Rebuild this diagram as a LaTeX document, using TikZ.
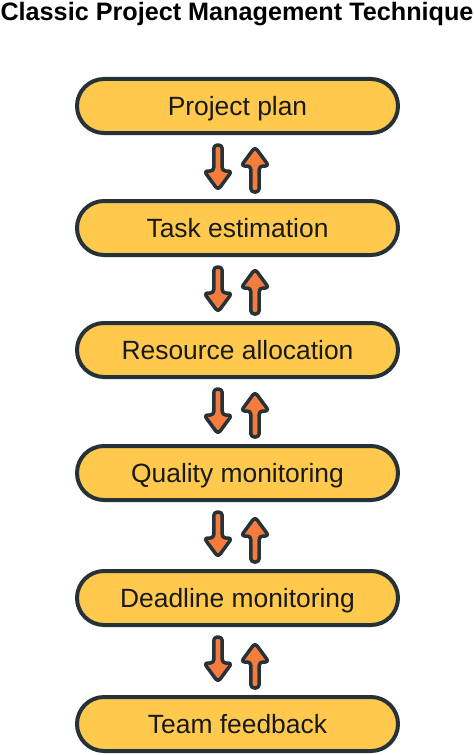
\documentclass[tikz,border=0pt]{standalone}
\usepackage{fontspec}
\setmainfont{Liberation Sans}
\usepackage{tikz}
\usetikzlibrary{positioning,calc}
\usepackage{xcolor}

\definecolor{stepyellow}{HTML}{FFC94E}
\definecolor{flowor}{HTML}{F47C3C}
\definecolor{edgedark}{HTML}{263238}

\begin{document}
\begin{tikzpicture}[x=1bp, y=-1bp,
    stage/.style={draw=edgedark, fill=stepyellow, line width=4bp,
                  rounded corners=27bp, minimum width=321bp, minimum height=54bp,
                  text height=18.8bp, text depth=0bp, inner sep=0pt,
                  font=\fontsize{26.5}{30}\selectfont, text=black!90},
    arrline/.style={draw=edgedark, fill=flowor, line width=3.5bp,
                    line join=round, rounded corners=3.5bp},
    downarr/.pic={
        \path[arrline] (-4.2,0) -- (-4.2,26) -- (-14,26) -- (0,45)
            -- (14,26) -- (4.2,26) -- (4.2,0) -- cycle;
    },
    uparr/.pic={
        \path[arrline] (-4.2,0) -- (-4.2,-26) -- (-14,-26) -- (0,-45)
            -- (14,-26) -- (4.2,-26) -- (4.2,0) -- cycle;
    }
]
    \useasboundingbox (0,0) rectangle (474,755);

    % Title
    \node[anchor=base, font=\fontsize{25.3}{30}\selectfont\bfseries] (title)
        at (237,21) {Classic Project Management Technique};

    % Stages
    \node[stage] (plan)     at (237.5,106) {Project plan};
    \node[stage] (estim)    at (237.5,228) {Task estimation};
    \node[stage] (alloc)    at (237.5,350) {Resource allocation};
    \node[stage] (quality)  at (237.5,473) {Quality monitoring};
    \node[stage] (deadline) at (237.5,598) {Deadline monitoring};
    \node[stage] (feedback) at (237.5,724) {Team feedback};

    % Arrows between stages
    \foreach \upper/\lower in {plan/estim, estim/alloc, alloc/quality,
                               quality/deadline, deadline/feedback} {
        \pic at ($(\upper.south)+(-19.5,10)$) {downarr};
        \pic at ($(\lower.north)+(17.5,-7)$) {uparr};
    }
\end{tikzpicture}
\end{document}
